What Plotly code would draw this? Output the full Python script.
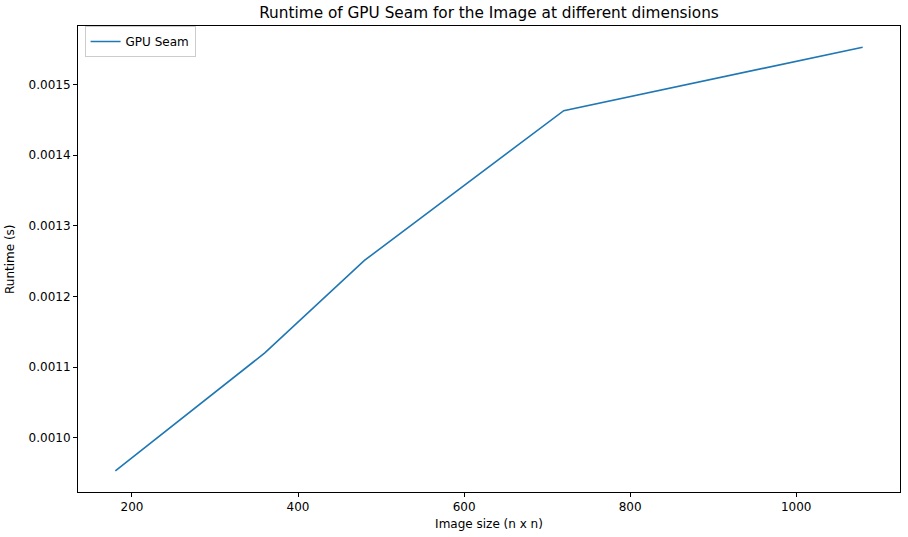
import plotly.graph_objects as go

# Image side length (n for an n x n image) and measured runtime in seconds
image_sizes = [180, 360, 480, 720, 1080]
gpu_seam_runtime = [0.000953, 0.00112, 0.001251, 0.001463, 0.001553]

y_ticks = [0.0010, 0.0011, 0.0012, 0.0013, 0.0014, 0.0015]
x_ticks = [200, 400, 600, 800, 1000]

FONT = "DejaVu Sans, Liberation Sans, sans-serif"
MARGIN_L = 78

fig = go.Figure()
fig.add_trace(go.Scatter(
    x=image_sizes,
    y=gpu_seam_runtime,
    mode="lines",
    name="GPU Seam",
    line=dict(color="#1f77b4", width=1.6),
))

axis_common = dict(
    showline=True,
    linecolor="black",
    linewidth=1,
    mirror=True,
    showgrid=False,
    zeroline=False,
    automargin=False,
    ticks="outside",
    ticklen=4,
    tickwidth=1,
    tickcolor="black",
    tickfont=dict(family=FONT, size=12, color="black"),
)

fig.update_layout(
    width=908,
    height=537,
    paper_bgcolor="white",
    plot_bgcolor="white",
    font=dict(family=FONT, color="black"),
    margin=dict(l=MARGIN_L, r=8, t=26, b=45),
    title=dict(
        text="Runtime of GPU Seam for the Image at different dimensions",
        xref="paper", x=0.5, xanchor="center", y=0.976, yanchor="middle",
        font=dict(family=FONT, size=15.3, color="black"),
    ),
    xaxis=dict(
        axis_common,
        range=[135, 1125],
        tickvals=x_ticks,
        title=dict(text="Image size (n x n)", font=dict(family=FONT, size=12), standoff=6),
    ),
    yaxis=dict(
        axis_common,
        range=[0.000923, 0.001583],
        tickvals=y_ticks,
        tickformat=".4f",
    ),
    showlegend=True,
    legend=dict(
        x=0.008, y=1.0, xanchor="left", yanchor="top",
        bgcolor="rgba(255,255,255,0.8)",
        bordercolor="#cccccc", borderwidth=1,
        font=dict(family=FONT, size=12, color="black"),
    ),
)

# y-axis title as an annotation so it can sit closer to the page edge
fig.add_annotation(
    text="Runtime (s)", textangle=-90,
    xref="paper", yref="paper", x=0, y=0.5,
    xanchor="center", yanchor="middle",
    xshift=-(MARGIN_L - 10), showarrow=False,
    font=dict(family=FONT, size=12, color="black"),
)

# drop the browser's default body margin so the figure sits at the page corner
fig.write_html(
    "out.html",
    config={"displayModeBar": False},
    post_script="document.body.style.margin='0';",
)
